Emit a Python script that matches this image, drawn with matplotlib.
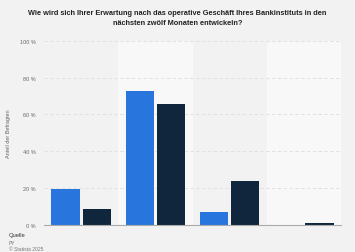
import matplotlib.pyplot as plt
import numpy as np

plt.rcParams['font.family'] = ['Liberation Sans', 'DejaVu Sans']

categories = ['A', 'B', 'C', 'D']
series_a = [19.7, 72.6, 6.9, 0.0]
series_b = [8.7, 65.6, 23.7, 0.9]
y_ticks = [0, 20, 40, 60, 80, 100]

fig = plt.figure(figsize=(3.55, 2.53), dpi=100)
fig.patch.set_facecolor('#f2f2f2')
ax = fig.add_axes([0.124, 0.107, 0.837, 0.728])
ax.set_facecolor('#f2f2f2')

x = np.arange(len(categories))
# alternating category bands
for i in x:
    if i % 2 == 1:
        ax.axvspan(i - 0.5, i + 0.5, color='#f8f8f8', zorder=0, lw=0)

ax.bar(x - 0.21, series_a, width=0.38, color='#2876dd', zorder=3)
ax.bar(x + 0.21, series_b, width=0.38, color='#10263c', zorder=3)

ax.set_xlim(-0.5, len(categories) - 0.5)
ax.set_ylim(0, 100)
ax.set_yticks(y_ticks)
ax.set_yticklabels([f'{t} %' for t in y_ticks], fontsize=4, color='#666666')
ax.set_xticks([])
ax.tick_params(axis='y', length=0, pad=6)
ax.yaxis.grid(True, color='#dddddd', linestyle=(0, (4, 3)), linewidth=0.6, zorder=1)
for s in ['top', 'right', 'left']:
    ax.spines[s].set_visible(False)
ax.spines['bottom'].set_color('#aaaaaa')
ax.spines['bottom'].set_linewidth(0.8)
ax.spines['bottom'].set_zorder(4)

ax.set_ylabel('Anteil der Befragten', fontsize=4, color='#666666', labelpad=6)

fig.text(0.5, 0.96, 'Wie wird sich Ihrer Erwartung nach das operative Geschäft Ihres Bankinstituts in den\nnächsten zwölf Monaten entwickeln?',
         ha='center', va='top', fontsize=5.3, fontweight='bold', color='#222222', linespacing=1.6)

fig.text(0.025, 0.078, 'Quelle', fontsize=4.2, color='#333333', va='top')
fig.text(0.025, 0.047, 'PY', fontsize=3.6, color='#777777', va='top')
fig.text(0.025, 0.022, '© Statista 2025', fontsize=3.6, color='#777777', va='top')

fig.savefig('out.png', dpi=100, facecolor=fig.get_facecolor())
